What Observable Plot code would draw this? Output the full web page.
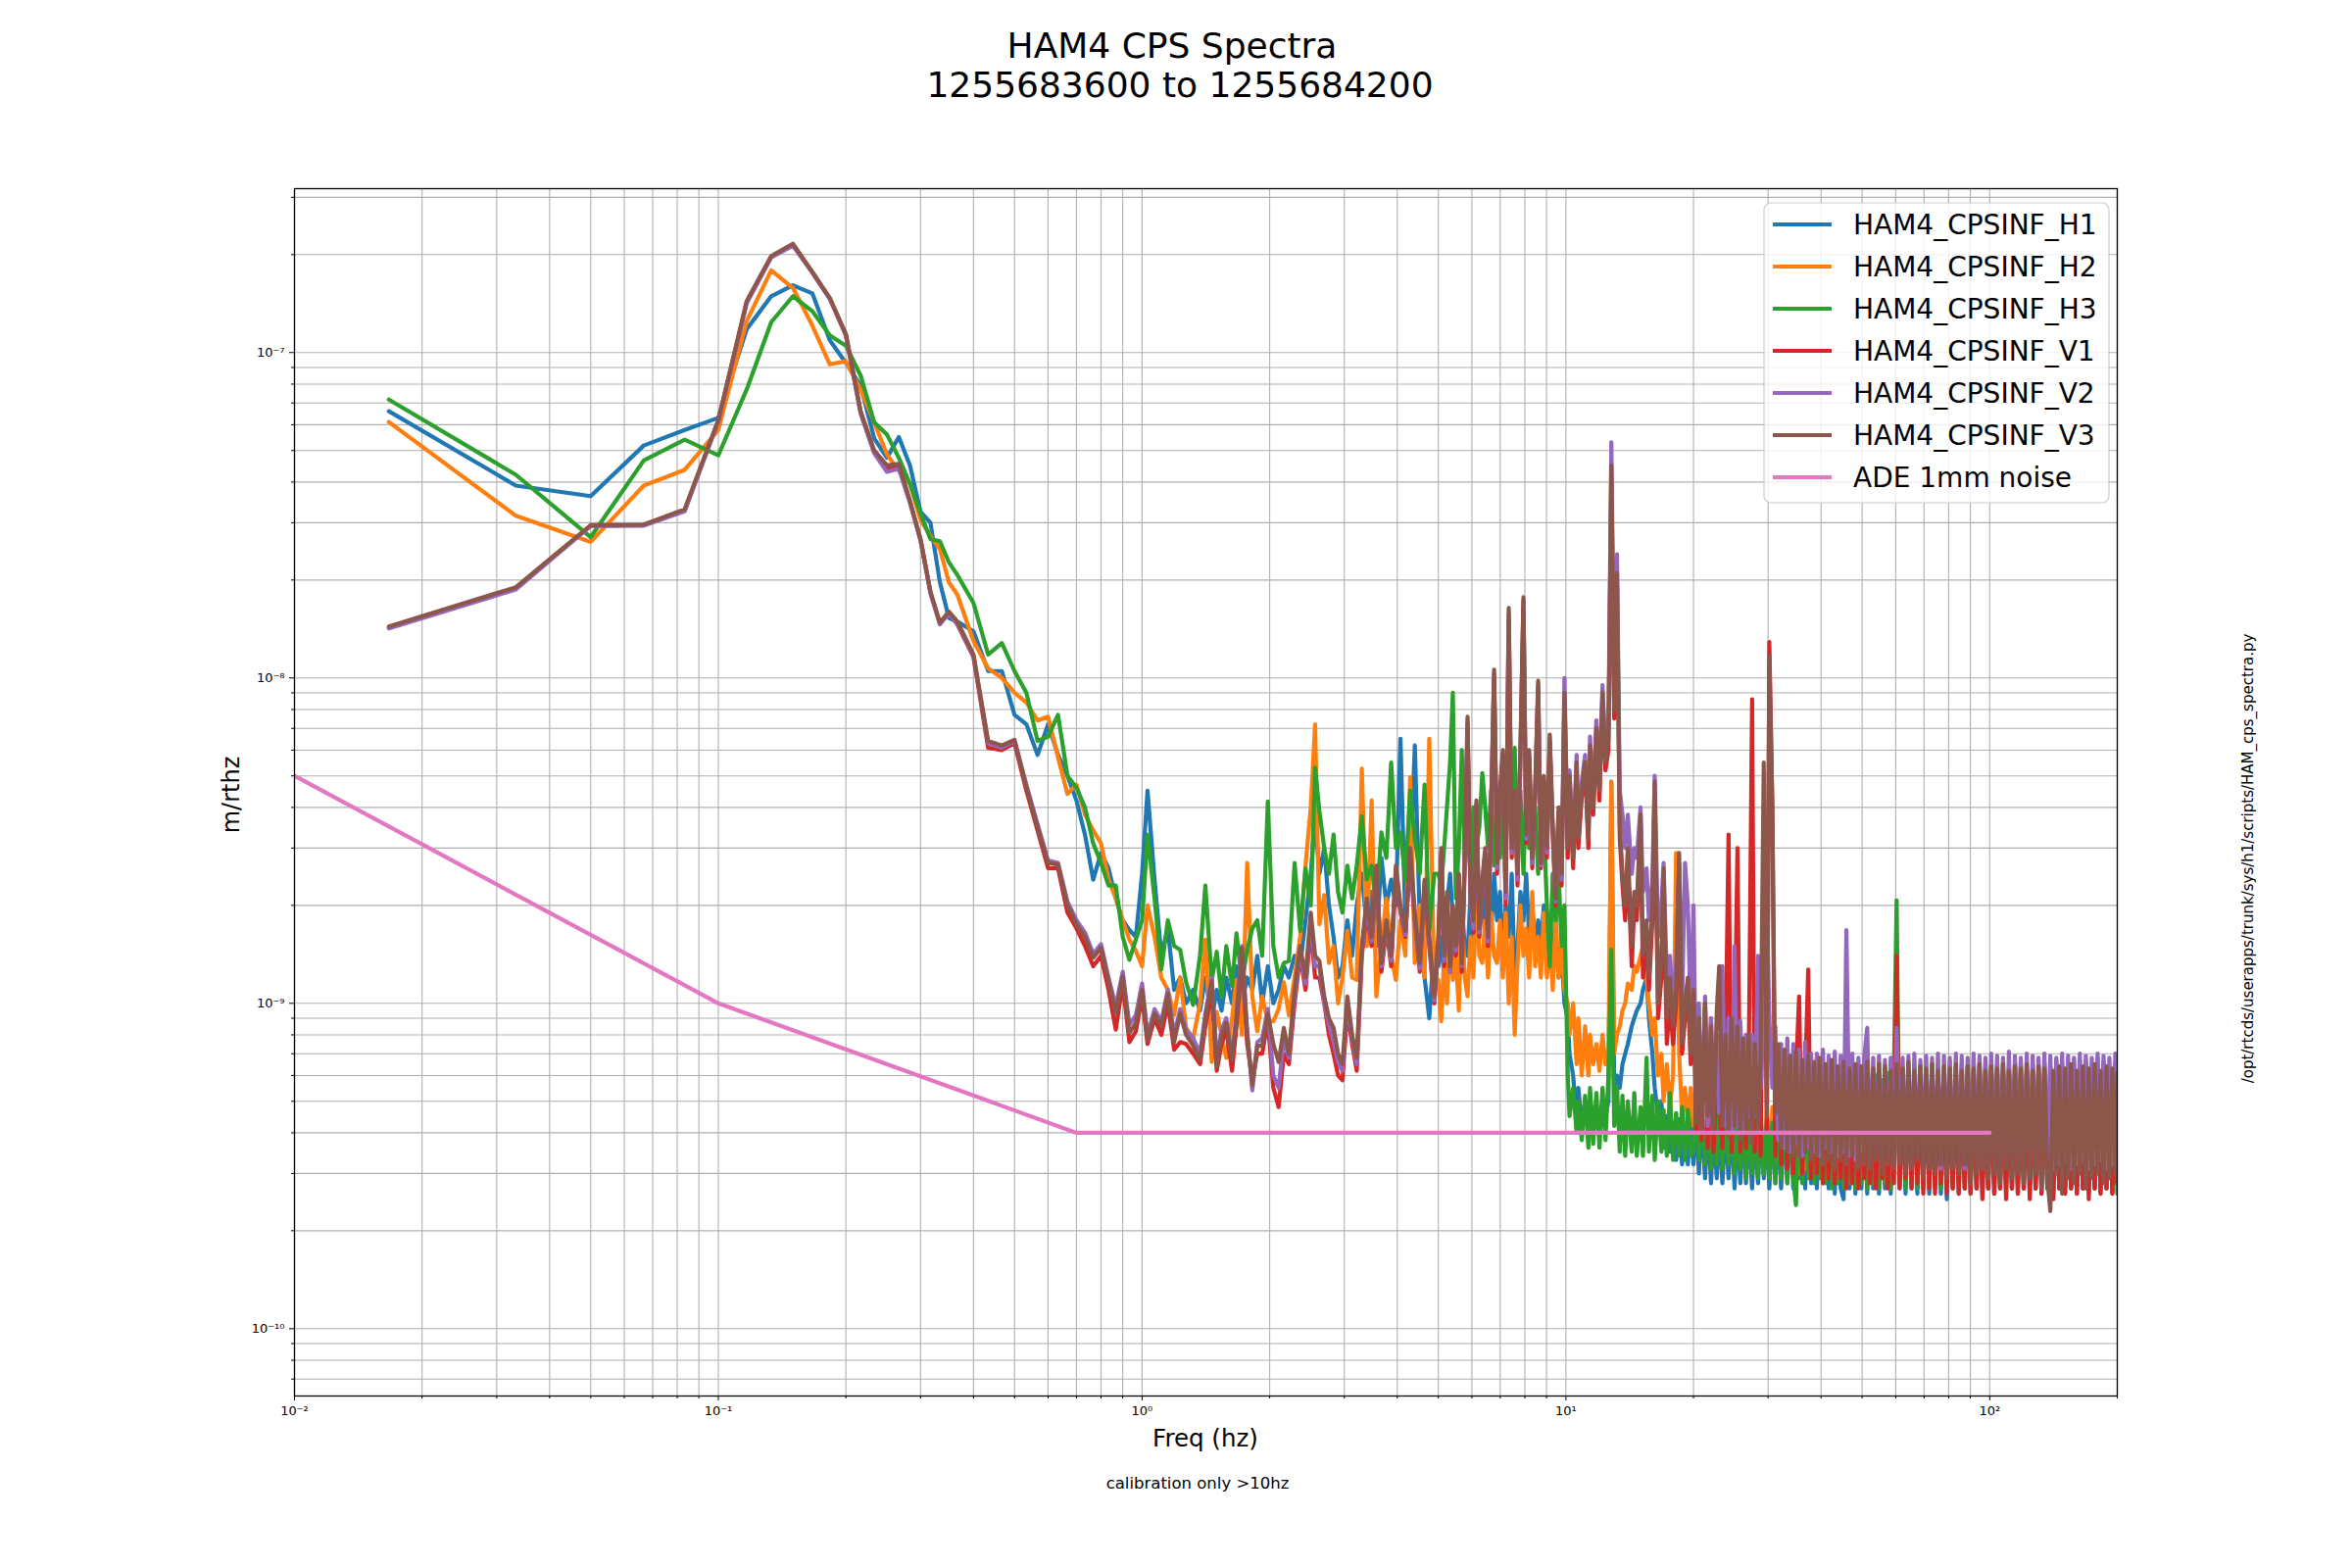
<!DOCTYPE html>
<html>
<head>
<meta charset="utf-8">
<script src="https://cdn.jsdelivr.net/npm/d3@7"></script>
<script src="https://cdn.jsdelivr.net/npm/@observablehq/plot@0.6"></script>
<style>
  html, body { margin: 0; padding: 0; background: #ffffff; }
  #chart { width: 2400px; height: 1600px; }
  svg text { font-family: "DejaVu Sans", sans-serif; }
</style>
</head>
<body>
<div id="chart"></div>
<script>
// ---------------- DATA ----------------
// amplitude values are in units of 1e-10 m/rthz
const UNIT = 1e-10;

const names = ["HAM4_CPSINF_H1","HAM4_CPSINF_H2","HAM4_CPSINF_H3","HAM4_CPSINF_V1","HAM4_CPSINF_V2","HAM4_CPSINF_V3","ADE 1mm noise"];
const colors = ["#1f77b4","#ff7f0e","#2ca02c","#d62728","#9467bd","#8c564b","#e377c2"];

// frequencies (Hz)
const fLow = [0.0167,0.0333,0.05,0.0667,0.0833,0.1,0.1167,0.1333,0.15,0.1667,0.1833,0.2,0.2167,0.2333,0.25,0.2667,0.2833,0.3,0.3167,0.3333,0.35];
const fMid = [0.3667,0.4,0.4333,0.4667,0.5,0.5333,0.5667,0.6,0.6333,0.6667,0.7,0.7333,0.7667,0.8,0.8333,0.8667,0.9,0.9333,0.9667,1.0];
const fHi = [
1.03,1.07,1.11,1.15,1.19,1.23,1.27,1.32,1.37,1.41,1.46,1.5,1.54,1.58,1.63,1.67,1.72,1.77,1.82,1.87,1.92,1.98,
2.04,2.1,2.16,2.22,2.29,2.36,2.43,2.5,2.56,2.62,2.69,2.76,2.83,2.9,2.97,3.05,3.13,3.21,3.3,3.39,3.48,3.57,3.67,3.77,3.87,3.97,4.07,4.18,4.29,4.4,4.52,4.64,4.76,4.89];
const fBand = [
5.0,5.08,5.16,5.24,5.33,5.41,5.5,5.59,5.68,5.77,
5.86,5.96,6.05,6.15,6.25,6.35,6.45,6.55,6.66,6.77,
6.88,6.99,7.1,7.21,7.33,7.45,7.57,7.69,7.81,7.94,
8.06,8.19,8.33,8.46,8.6,8.73,8.87,9.02,9.16,9.31,
9.46,9.61,9.77,9.92,10.1,10.2,10.4,10.6,10.7,10.9,
11.1,11.3,11.4,11.6,11.8,12.0,12.2,12.4,12.6,12.8,
13.0,13.2,13.4,13.6,13.8,14.0,14.3,14.5,14.7,15.0,
15.2,15.5,15.7,16.0,16.2,16.5,16.8,17.0,17.3,17.6,
17.9,18.2,18.5,18.8,19.1,19.4,19.7];
const fDense = [
20.0,20.3,20.6,20.9,21.3,21.6,22.0,22.3,22.7,23.0,
23.4,23.8,24.2,24.6,25.0,25.4,25.8,26.2,26.6,27.0,
27.5,27.9,28.4,28.8,29.3,29.8,30.2,30.7,31.2,31.7,
32.2,32.8,33.3,33.8,34.4,34.9,35.5,36.1,36.7,37.3,
37.9,38.5,39.1,39.7,40.4,41.0,41.7,42.4,43.1,43.8,
44.5,45.2,45.9,46.7,47.4,48.2,49.0,49.8,50.6,51.4,
52.2,53.1,53.9,54.8,55.7,56.6,57.5,58.4,59.4,60.3,
61.3,62.3,63.3,64.3,65.4,66.4,67.5,68.6,69.7,70.8,
72.0,73.1,74.3,75.5,76.7,78.0,79.2,80.5,81.8,83.2,
84.5,85.9,87.3,88.7,90.1,91.6,93.1,94.6,96.1,97.7,
99.2,100.8,102.5,104.1,105.8,107.5,109.3,111.0,112.8,114.7,
116.5,118.4,120.3,122.3,124.3,126.3,128.3,130.4,132.5,134.6,
136.8,139.0,141.3,143.6,145.9,148.2,150.6,153.1,155.6,158.1,
160.6,163.2,165.9,168.6,171.3,174.1,176.9,179.7,182.6,185.6,
188.6,191.6,194.7,197.9,200.0];

const h1 = [
660,390,362,518,578,630,1180,1490,1610,1520,1090,930,790,545,475,550,450,324,300,197,153,
149,139,105,105,77,72,58,72,58,50,42,33,24,29,26,21,18,16.8,16,25,
45,24,14,17,11,12,10,11,9.5,12,9,11,9.5,12,10,13,10,12,11,14,10,13,
10,11,13,12,14,13,18,25,37,25,30,20,16,12,13,18,14,20,25,17,22,15,28,20,24,20,65,18,25,62,18,12,9,15,
13,16,12,20,25,18,14,22,20,15,
14,22,14,25,18,22,16,20,16,25,
18,22,14,20,16,25,12,15,22,18,
25,16,20,14,18,15,20,14,18,15,
16,12,14,10,9,7,6,4.5,5.5,4.2,
5,4.2,5,4.5,4.8,4.2,5,4.5,5,48,
5.5,6,5.5,6.5,7,7.5,8.5,9,9.5,10,
11,12,9,7,5.5,4.5,5,3.6,4.5,3.5,
4.3,3.3,4.4,3.2,4.0,3.2,4.5,
3.2,4.5,3.0,4.4,2.9,4.3,2.8,4.2,2.9,4.3,
2.8,4.2,2.9,4.3,2.7,4.2,2.8,4.4,2.8,4.2,
2.7,4.3,2.8,4.2,2.9,4.1,2.7,4.3,2.8,4.2,
2.7,4.5,2.8,4.7,2.7,4.8,2.9,4.9,2.7,5.0,
2.8,5.1,2.7,5.0,2.8,5.2,2.7,5.1,2.6,5.2,
2.7,2.5,5.3,2.7,5.2,2.6,5.4,2.7,5.3,2.6,
5.4,2.7,5.3,2.6,5.5,2.7,5.4,2.6,5.3,5.5,
2.7,5.4,2.6,5.3,2.7,5.5,2.6,5.4,2.7,5.3,
2.6,5.5,2.7,5.4,2.6,5.3,2.5,5.5,2.7,5.4,
2.6,5.3,2.7,5.5,2.6,5.4,2.7,5.3,2.6,5.5,
2.7,5.4,2.6,5.3,2.7,5.5,2.6,5.4,2.7,5.3,
2.6,5.5,2.7,5.4,2.6,5.3,2.7,5.5,2.6,5.4,
2.7,5.3,2.6,5.5,2.7,5.4,2.6,5.3,2.7,5.5,
2.6,5.4,2.7,5.3,2.6,5.5,2.7,5.4,2.6,5.3,
2.7,5.5,2.6,5.4,2.8];

const h2 = [
612,315,262,390,436,578,1250,1790,1580,1210,920,940,770,610,486,433,395,306,273,249,197,
180,130,107,100,90,84,74,76,57,44,47,38,34,31,24,21,18,15.7,14.5,13,
20,16,12,11,9.2,12,8.4,7.8,10,15.7,6.6,9.4,8,6.8,9,11.8,8,27,10.5,8.2,10.5,8.8,
8.8,9.6,11.6,9.2,12,16,26.5,40,72,17.5,21.5,13.3,15,10,12,16.7,12,11.8,52.6,15,42,10.5,15,21,14,11.8,18,14,49.5,13.3,20,12,65,11.8,
11.8,8.8,14,10,16.7,11.8,14,9.5,20,12,
10.5,16,12,21,14,13.3,18,12,19,14,
13.3,18,12,19,10,16,8,13.3,20,14,
17,12,22,13,16,12,19,12,16,11,
19,12,15,11,10,8,10,6.5,9,6,
8.5,6,8,6.5,7.5,6.2,8,6.5,7,48,
7,8,8.5,9.5,10,11.5,11,13,12.5,14,
15,12,10,8,9,6,7,5,6.5,4.8,
6,29,7,4.5,5.5,4.2,5.5,
4.2,6,3.8,5.5,3.6,5.2,3.5,5.1,3.4,5.0,
3.4,5.0,3.3,4.9,3.3,4.8,3.2,4.8,3.2,4.7,
3.1,4.7,3.2,4.8,3.0,4.7,3.1,4.8,3.0,4.9,
3.1,5.2,3.0,5.4,3.1,5.6,3.0,5.8,3.1,5.9,
3.0,6.0,3.1,6.1,3.0,6.0,3.1,6.2,3.0,6.1,
3.1,6.3,3.0,6.1,3.1,6.2,3.0,6.4,3.1,6.0,
3.0,6.2,3.1,6.1,3.0,6.3,3.1,6.0,3.0,6.2,
3.1,6.4,3.0,6.1,3.1,6.3,3.0,6.5,3.1,6.2,
3.0,6.4,3.1,6.1,3.0,6.3,3.1,6.6,3.0,6.2,
3.1,6.5,3.0,6.3,3.1,6.1,3.0,6.4,3.1,6.6,
3.0,6.2,3.1,6.5,3.0,6.3,3.1,6.4,3.0,6.2,
3.1,6.6,3.0,6.3,3.1,6.5,3.0,6.2,3.1,6.4,
3.0,6.3,3.1,6.5,3.0,6.2,3.1,6.6,3.0,6.4,
3.1,6.3,3.0,6.5,3.1,6.2,3.0,6.4,3.1,6.6,
3.0,6.3,3.1,6.5,6.0];

const h3 = [
717,421,271,466,540,483,770,1240,1490,1340,1130,1050,850,610,560,475,395,320,267,263,227,
207,170,118,128,105,90,64,66,77,50,46,40,31,27,23,23,16,13.6,15.7,18,
33,21,12.7,18,15,14.6,11.6,9.9,14,23,11.8,14.4,10.5,15,11.3,16.4,11.6,14.6,17,18,14,41.7,
15,12,13.3,13.5,27,16.7,26,20,53,39,30,25,33,22,19,26.5,21,26.5,37.6,24,26.5,20,33.5,28,55,30,33.5,24,45,32,25,47,16.7,25,
25,23,30,40,55,90,21,30,60,28,
33,25,40,30,35,51,40,30,45,26.5,
35,28,40,30,45,35,61,30,45,25,
45,30,32,40,25,35,35,20,13,25,
18,25,15,20,6,4.5,5.5,4,5,3.8,
5.2,3.6,5.5,3.7,5.3,3.6,5.5,3.8,6,14.6,
4.2,5.5,3.5,5.2,3.4,5.0,3.5,5.3,3.4,4.8,
3.4,6.8,3.5,5.2,3.3,5.0,3.5,4.7,3.4,5.3,
3.3,4.6,3.4,4.8,3.3,4.7,3.4,
3.5,5,3.3,4.8,3.2,4.7,3.1,4.6,3.2,4.6,
3.1,4.5,3.2,4.6,3.0,4.4,3.1,4.5,2.9,4.4,
3.0,4.3,2.9,4.5,3.0,4.4,2.9,4.3,2.8,4.5,
2.9,4.6,2.8,4.8,2.9,2.4,5.0,2.8,5.2,2.9,
5.4,2.8,5.5,2.9,5.6,2.8,5.5,2.7,5.7,2.8,
5.6,2.7,5.8,2.8,5.6,2.7,5.7,2.8,5.9,2.7,
5.8,2.8,6.0,2.7,5.8,2.8,6.1,2.7,5.9,20.7,
2.8,6.0,2.7,5.8,2.8,6.2,2.7,6.0,2.8,6.3,
2.7,6.1,2.8,6.4,2.7,6.2,2.8,6.0,2.7,6.3,
2.8,6.1,2.7,6.4,2.8,6.2,2.7,6.5,2.8,6.3,
2.7,6.4,2.8,6.2,2.7,6.5,2.8,6.3,2.7,6.6,
2.8,6.4,2.7,6.2,2.8,6.5,2.7,6.3,2.8,6.6,
2.7,6.4,2.8,6.7,2.7,6.5,2.8,6.3,2.7,6.6,
2.8,6.4,2.7,6.7,2.8,6.5,2.7,6.8,2.8,6.6,
2.7,6.4,2.8,6.5,2.6];

const v1 = [
143,189,294,295,328,618,1430,1970,2150,1765,1465,1135,655,495,440,448,348,266,183,147,159,
146,116,61,60,63,45,34,26,26,19,17,15,13,14,11,8.3,11.5,7.6,8.2,10.5,
7.5,9,8,10,7.2,7.6,7.5,7,6.5,8.5,11,6.2,7.5,8.3,6.2,8.5,14,7.5,5.8,7,7,8.8,
5.5,4.8,7,6.5,10,14,11,17,12,12,10,8,7,6,5.8,9.5,7.5,6.2,14,19,15,25,12.5,17,13,25,19,16,28,18,12.5,23,15,10,
15,28,13,21,12.5,19,14,24,12.5,26,
70,20,16.5,40,16,22.5,28,15,38,100,
25,43,57,20,150,28,43,23,57,165,
31,57,26,43,92,26,48,28,63,33,
20,38,23,85,28,47,26,52,30,43,
52,30,58,38,66,42,85,52,60,420,
75,190,32,23,18,27,13,20,18,34,
12,16,11,18,44,9,12,24,7.5,10,
7.5,10,27,7,9,11,6.5,
12,4,8,3.8,10,3.6,9,3.5,6,5,
3.6,7,33,3.5,7.5,30,3.5,7,3.6,6.5,
86,3.5,6.5,3.4,30,4,129,40,3.4,6.5,
3.2,6.3,3.1,6.2,3.0,6.1,10.5,3.0,6.0,12.7,
2.9,6.0,3.0,5.9,2.8,6.0,2.9,5.8,2.8,5.9,
2.9,5.8,2.7,6.0,2.8,5.9,2.7,5.8,2.9,6.0,
2.8,5.9,2.7,5.8,2.9,6.0,2.7,5.9,2.8,14,
2.7,5.8,2.9,6.0,2.7,5.9,2.8,5.7,2.6,5.9,
2.7,5.8,2.6,6.0,2.8,5.9,2.6,5.8,2.7,5.9,
2.6,5.8,2.7,6.0,2.6,5.8,2.7,5.9,2.5,5.8,
2.7,5.9,2.6,5.8,2.7,6.0,2.5,5.9,2.7,5.8,
2.6,5.9,2.7,5.8,2.5,5.9,2.7,6.0,2.6,5.8,
2.7,5.9,2.5,5.8,2.7,6.0,2.6,5.8,2.7,5.9,
2.6,5.8,2.7,6.0,2.5,5.9,2.7,5.8,2.6,5.9,
2.7,5.8,2.6,5.9,2.8];

const v2 = [
142,187,293,294,325,615,1420,1960,2130,1760,1460,1130,650,490,430,440,345,265,182,146,158,
147,117,63,61,64,47,35.5,27.5,27,20.5,18,16.5,14.2,15.2,12,9.8,12.5,8.6,9.2,11.5,
8,9.6,8.8,11,8,9.6,8.3,7.8,7,9.3,12,6.7,8.3,9,6.9,9.3,15,8.2,5.4,7.6,7.8,9.6,
6,5.5,7.8,6.8,10.5,14.5,11.5,18,13,13,10,8.6,7.6,6.6,6.2,10,7.8,6.5,14.5,20,15.5,26,13,17.5,13.5,26,19.5,16.2,29,18.5,12.8,23.5,15.5,10.2,
15.5,29,13.5,21,12.5,19.5,14.5,24.5,13,27,
73,20.5,17,41,16.5,23,29,15.5,39,103,
26,44,58,21,158,29,44,24,58,172,
32,58,27,44,95,26.5,49,29,65,34,
20.5,39,24,100,32,52,30,58,34,48,
58,34,66,42,74,48,95,58,70,530,
85,240,45,38,30,38,25,30,28,40,
22,26,18,24,50,16,20,27,12,14,
10,13,27,10,27,20,9,
20,5,10,4.5,10.5,4.2,9,4.4,8,4.6,
13,4.2,9,4,15,4.2,8.8,4.1,8,4.5,
8,4.5,14,5.5,9,20,9,5.5,8.5,3.8,
7.5,3.6,7.8,3.5,7.5,3.7,7.2,3.4,7.6,3.6,
7.0,3.5,7.0,3.4,7.2,3.6,6.9,3.5,7.1,3.4,
6.9,3.5,16.8,3.4,7.0,3.3,6.8,3.5,6.9,8.4,
3.3,6.8,3.4,6.9,3.3,6.7,3.4,6.8,3.2,8.4,
3.4,6.8,3.3,6.9,3.2,7.0,3.4,6.7,3.3,6.9,
3.2,6.8,3.3,7.0,3.1,6.9,3.3,6.8,3.2,7.0,
3.3,6.9,3.1,6.8,3.2,7.0,3.3,6.9,3.1,6.8,
3.2,7.0,3.3,6.9,3.1,6.8,3.2,7.1,3.3,6.9,
3.1,6.8,3.2,7.0,3.3,6.9,3.1,6.8,3.2,7.0,
3.3,6.9,3.1,6.8,3.2,7.0,3.3,6.9,3.1,6.8,
3.2,7.0,3.3,6.9,3.1,6.8,3.2,7.0,3.3,6.9,
3.1,6.8,3.2,7.0,3.3];

const v3 = [
144,190,295,296,330,620,1440,1980,2160,1770,1470,1140,660,500,450,455,350,267,184,148,160,
149,118,64,62,64.5,46,34.8,27,26.7,20,17.5,16,13.8,14.8,11.7,9.3,12.1,8.1,8.7,11,
7.7,9.3,8.5,10.7,7.6,9.3,8,7.4,6.7,9,11.7,6.4,8,8.7,6.7,9,14.8,8,5.6,7.4,7.4,9.3,
7.5,6.6,8.4,7,11,15,12,19,14,13.5,10.5,9,8.4,7,6.5,10.5,8,6.8,15,21,16,26.5,13.3,18,14,26.5,20,16.7,30,19,13.3,24,16,10.5,
16,30,14,22,13,20,15,25,13.3,28,
76,21,18,42,17,24,30,16,40,106,
27,45,60,22,164,30,45,25,60,177,
33,60,28,45,98,27,50,30,67,35,
21,40,25,90,30,50,28,55,32,45,
55,32,62,40,70,45,90,55,65,450,
80,210,35,25,20,30,15,22,20,38,
14,18,12,20,48,10,14,26,9,12,
8.5,11,29,7.5,10,12,7,
11,4.3,9,4.1,10,4.5,8.5,4,9.5,13,
4.2,8,3.9,9,4.2,8.5,3.8,7.8,4.1,8,
3.7,7.5,4,6.8,55,4.5,116,40,4.6,7.5,
3.6,7.2,3.5,6.9,3.4,7.1,3.4,6.7,3.5,6.9,
3.3,6.6,3.4,6.8,3.2,6.5,3.3,6.7,3.1,6.4,
3.3,6.6,3.2,6.3,3.4,6.5,3.1,6.4,3.2,6.6,
3.1,6.3,3.3,6.5,3.0,6.4,3.2,6.2,3.1,6.5,
3.2,6.3,3.0,6.6,3.1,6.2,3.3,6.4,2.9,6.3,
3.1,6.5,3.0,6.2,3.2,6.4,2.9,6.3,3.1,6.5,
3.0,6.2,3.2,6.4,2.8,6.3,3.0,6.5,3.1,6.2,
2.9,6.4,3.0,6.3,2.8,6.5,3.1,6.2,2.9,6.4,
3.0,6.3,2.8,6.5,2.9,6.2,3.0,6.4,2.7,6.3,
2.9,2.3,6.2,3.0,6.4,2.6,6.3,2.9,6.5,2.8,
6.2,3.0,6.4,2.7,6.3,2.9,6.5,3.0,6.2,2.8,
6.4,2.9,6.3,3.0,6.1];

const adeFreq = [0.01, 0.1, 0.7, 100];
const adeVal = [50, 10, 4, 4];

const xMajor = [0.01, 0.1, 1, 10, 100];
const yMajor = [1e-10, 1e-9, 1e-8, 1e-7];

const titleLines = ["HAM4 CPS Spectra", "1255683600 to 1255684200"];
const xLabel = "Freq (hz)";
const yLabel = "m/rthz";
const caption = "calibration only >10hz";
const sideText = "/opt/rtcds/userapps/trunk/sys/h1/scripts/HAM_cps_spectra.py";

// ---------------- BUILD ----------------
const freq = fLow.concat(fMid, fHi, fBand, fDense);
const seriesVals = [h1, h2, h3, v1, v2, v3];
seriesVals.forEach((a, i) => { if (a.length !== freq.length) console.warn(names[i], a.length, freq.length); });

const tables = seriesVals.map(vals => {
  const n = Math.min(vals.length, freq.length);
  const rows = [];
  for (let i = 0; i < n; i++) rows.push({f: freq[i], v: vals[i] * UNIT});
  return rows;
});
const adeRows = adeFreq.map((f, i) => ({f, v: adeVal[i] * UNIT}));

const xDomain = [0.01, 200];
const yDomain = [6.21e-11, 3.19e-7];

const xMinor = [];
for (let e = -2; e <= 2; e++) for (let m = 2; m <= 9; m++) { const t = +(m * Math.pow(10, e)).toPrecision(3); if (t <= xDomain[1]) xMinor.push(t); }
const yMinor = [];
for (let e = -11; e <= -7; e++) for (let m = 2; m <= 9; m++) { const t = +(m * Math.pow(10, e)).toPrecision(3); if (t >= yDomain[0] && t <= yDomain[1]) yMinor.push(t); }
const yMajorIn = yMajor.filter(t => t >= yDomain[0] && t <= yDomain[1]);

const supMap = {"-": "\u207B", "0": "\u2070", "1": "\u00B9", "2": "\u00B2", "3": "\u00B3", "4": "\u2074", "5": "\u2075", "6": "\u2076", "7": "\u2077", "8": "\u2078", "9": "\u2079"};
const fmtPow = d => "10" + String(Math.round(Math.log10(d))).split("").map(c => supMap[c]).join("");

const gridStyle = {stroke: "#b0b0b0", strokeOpacity: 1, strokeWidth: 1.1};

const lineMarks = tables.map((rows, i) => Plot.line(rows, {
  x: "f", y: "v", stroke: colors[i], strokeWidth: 4.2, strokeLinejoin: "round", clip: true
}));

const chart = Plot.plot({
  width: 2400,
  height: 1600,
  marginLeft: 300,
  marginRight: 240,
  marginTop: 192,
  marginBottom: 176,
  style: {fontFamily: "DejaVu Sans, sans-serif", background: "white", color: "black", overflow: "visible"},
  x: {type: "log", domain: xDomain, label: null},
  y: {type: "log", domain: yDomain, label: null},
  marks: [
    Plot.gridX({ticks: xMinor.concat(xMajor), ...gridStyle}),
    Plot.gridY({ticks: yMinor.concat(yMajorIn), ...gridStyle}),
    ...lineMarks,
    Plot.line(adeRows, {x: "f", y: "v", stroke: colors[6], strokeWidth: 4.2, clip: true}),
    Plot.frame({stroke: "black", strokeWidth: 1.3}),
    Plot.axisX({ticks: xMajor, tickFormat: fmtPow, tickSize: 5, tickPadding: 5, fontSize: 13, label: null, stroke: "black"}),
    Plot.axisX({ticks: xMinor, tickFormat: () => "", tickSize: 3, label: null, stroke: "black"}),
    Plot.axisY({ticks: yMajorIn, tickFormat: fmtPow, tickSize: 5, tickPadding: 5, fontSize: 13, label: null, stroke: "black"}),
    Plot.axisY({ticks: yMinor, tickFormat: () => "", tickSize: 3, label: null, stroke: "black"})
  ]
});

document.getElementById("chart").appendChild(chart);

// ---------------- TEXT & LEGEND ----------------
const svg = d3.select(chart);
const font = "DejaVu Sans, sans-serif";

function addText(x, y, size, str, anchor, transform) {
  const t = svg.append("text").attr("text-anchor", anchor).attr("font-family", font)
    .attr("font-size", size).attr("fill", "black").text(str);
  if (transform) t.attr("transform", transform); else t.attr("x", x).attr("y", y);
  return t;
}

addText(1196, 59, 36, titleLines[0], "middle");
addText(1204, 99, 36, titleLines[1], "middle");
addText(1230, 1476, 24.5, xLabel, "middle");
addText(0, 0, 24, yLabel, "middle", "translate(244,811) rotate(-90)");
addText(1222, 1519, 16.5, caption, "middle");
addText(0, 0, 15, sideText, "middle", "translate(2299,876) rotate(-90)");

const leg = svg.append("g");
leg.append("rect").attr("x", 1800).attr("y", 207).attr("width", 352).attr("height", 306).attr("rx", 7)
  .attr("fill", "white").attr("fill-opacity", 0.8).attr("stroke", "#cccccc").attr("stroke-width", 1.2);
names.forEach((nm, i) => {
  const y = 229 + i * 43;
  leg.append("line").attr("x1", 1809).attr("x2", 1869).attr("y1", y).attr("y2", y)
    .attr("stroke", colors[i]).attr("stroke-width", 4.2);
  leg.append("text").attr("x", 1891).attr("y", y).attr("dy", "0.36em").attr("text-anchor", "start")
    .attr("font-family", font).attr("font-size", 28).attr("fill", "black").text(nm);
});
</script>
</body>
</html>
